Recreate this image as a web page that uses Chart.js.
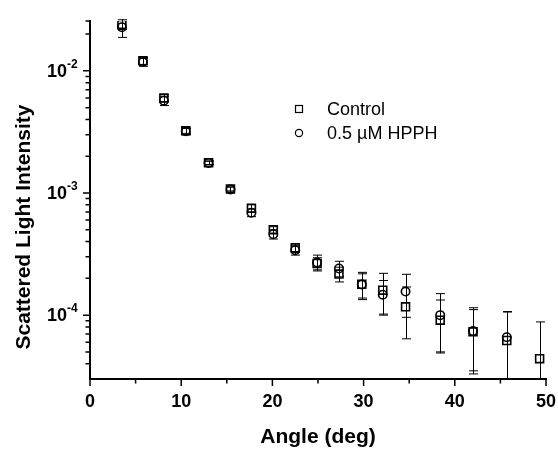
<!DOCTYPE html>
<html>
<head>
<meta charset="utf-8">
<script src="https://cdn.jsdelivr.net/npm/chart.js@4.4.1/dist/chart.umd.min.js"></script>
<style>
  html, body { margin: 0; padding: 0; background: #fff; }
</style>
</head>
<body>
<canvas id="scatterChart" width="558" height="451"></canvas>
<script>
// Datos
const angles = [3.5, 5.8, 8.1, 10.5, 13.0, 15.4, 17.7, 20.1, 22.5, 24.9, 27.3, 29.8, 32.1, 34.6, 38.4, 42.0, 45.7, 49.3];
const controlValues = [0.0240, 0.0121, 0.0060, 0.00323, 0.00177, 0.00108, 0.00075, 0.00050, 0.000355, 0.000265, 0.000217, 0.000179, 0.000160, 0.000117, 0.000091, 0.000073, 0.000062, 0.000044];
const controlErrors = [0.0022, 0.0008, 0.0004, 0.00015, 0.00006, 0.00004, 0.00005, 0.00003, 0.00003, 0.00003, 0.00003, 0.000045, 0.00006, 0.000053, 0.000042, 0.000038, 0.000045, 0.000044];
const hpphValues = [0.0228, 0.0118, 0.0057, 0.00320, 0.00176, 0.00107, 0.00069, 0.00046, 0.00034, 0.00027, 0.000241, 0.000178, 0.000147, 0.000156, 0.000100, 0.000074, 0.000066, null];
const hpphErrors = [0.004, 0.0009, 0.0005, 0.0002, 0.00006, 0.00005, 0.00005, 0.00004, 0.00003, 0.00004, 0.000035, 0.00004, 0.000045, 0.00006, 0.00005, 0.000041, 0.00004, null];

const xMajorTicks = [0, 10, 20, 30, 40, 50];
const xMinorTicks = [5, 15, 25, 35, 45];
const yDecadeTicks = [1e-4, 1e-3, 1e-2];
const yDecadeExps = ['-4', '-3', '-2'];

const yMin = 3e-5;
const yMax = 0.0256;

// ticks menores del eje log
const yMinorTicks = [];
[1e-5, 1e-4, 1e-3, 1e-2].forEach(d => {
    for (let m = 2; m <= 9; m++) {
        const v = m * d;
        if (v > yMin * 1.001 && v < yMax) yMinorTicks.push(v);
    }
});
yMinorTicks.push(yMax);

const errorSets = [
    { values: controlValues, errors: controlErrors },
    { values: hpphValues, errors: hpphErrors }
];

const FONT = '"Liberation Sans", Arial, sans-serif';

const decorPlugin = {
    id: 'decor',
    beforeDatasetsDraw(chart) {
        const ctx = chart.ctx;
        const xs = chart.scales.x, ys = chart.scales.y;
        const area = chart.chartArea;
        ctx.save();
        ctx.beginPath();
        ctx.rect(area.left, area.top - 2, area.right - area.left + 4, area.bottom - area.top + 2);
        ctx.clip();
        ctx.strokeStyle = '#000';
        ctx.lineWidth = 1;
        errorSets.forEach(set => {
            set.values.forEach((v, i) => {
                if (v === null) return;
                const e = set.errors[i];
                const x = Math.round(xs.getPixelForValue(angles[i])) + 0.5;
                const yT = ys.getPixelForValue(v + e);
                const lowOk = v - e > yMin;
                const yB = lowOk ? ys.getPixelForValue(v - e) : area.bottom;
                ctx.beginPath();
                ctx.moveTo(x, yT);
                ctx.lineTo(x, yB);
                ctx.moveTo(x - 4.5, yT);
                ctx.lineTo(x + 4.5, yT);
                if (lowOk) {
                    ctx.moveTo(x - 4.5, yB);
                    ctx.lineTo(x + 4.5, yB);
                }
                ctx.stroke();
            });
        });
        ctx.restore();
    },
    afterDraw(chart) {
        const ctx = chart.ctx;
        const xs = chart.scales.x, ys = chart.scales.y;
        const area = chart.chartArea;
        ctx.save();
        ctx.strokeStyle = '#000';
        ctx.fillStyle = '#000';
        ctx.lineWidth = 1.5;

        // marcas del eje y
        ctx.beginPath();
        yDecadeTicks.forEach(v => {
            const y = ys.getPixelForValue(v);
            ctx.moveTo(area.left - 7, y);
            ctx.lineTo(area.left, y);
        });
        yMinorTicks.forEach(v => {
            const y = ys.getPixelForValue(v);
            ctx.moveTo(area.left - 4.5, y);
            ctx.lineTo(area.left, y);
        });
        // marcas del eje x
        xMajorTicks.forEach(v => {
            const x = xs.getPixelForValue(v);
            ctx.moveTo(x, area.bottom);
            ctx.lineTo(x, area.bottom + 7);
        });
        xMinorTicks.forEach(v => {
            const x = xs.getPixelForValue(v);
            ctx.moveTo(x, area.bottom);
            ctx.lineTo(x, area.bottom + 4.5);
        });
        ctx.stroke();

        // etiquetas
        ctx.textBaseline = 'middle';
        ctx.textAlign = 'center';
        ctx.font = 'bold 18px ' + FONT;
        xMajorTicks.forEach(v => {
            ctx.fillText(String(v), xs.getPixelForValue(v), area.bottom + 23);
        });
        yDecadeTicks.forEach((v, i) => {
            const y = ys.getPixelForValue(v);
            ctx.textAlign = 'right';
            ctx.font = 'bold 18px ' + FONT;
            ctx.fillText('10', area.left - 23, y + 1);
            ctx.textAlign = 'left';
            ctx.font = 'bold 12px ' + FONT;
            ctx.fillText(yDecadeExps[i], area.left - 23, y - 6);
        });

        // titulos de ejes
        ctx.textAlign = 'center';
        ctx.font = 'bold 21px ' + FONT;
        ctx.fillText('Angle (deg)', (area.left + area.right) / 2, 437);
        ctx.save();
        ctx.translate(24, 227);
        ctx.rotate(-Math.PI / 2);
        ctx.fillText('Scattered Light Intensity', 0, 0);
        ctx.restore();

        // leyenda
        ctx.lineWidth = 1.2;
        ctx.strokeRect(295.5, 105.5, 7, 7);
        ctx.beginPath();
        ctx.arc(299, 133, 3.6, 0, Math.PI * 2);
        ctx.stroke();
        ctx.textAlign = 'left';
        ctx.font = '18px ' + FONT;
        ctx.fillText('Control', 327, 110);
        ctx.fillText('0.5 \u00B5M HPPH', 327, 134);
        ctx.restore();
    }
};

const ctx = document.getElementById('scatterChart').getContext('2d');
new Chart(ctx, {
    type: 'scatter',
    data: {
        datasets: [{
            label: 'Control',
            data: angles.map((a, i) => ({ x: a, y: controlValues[i] })),
            pointStyle: 'rect',
            pointRadius: 5.6,
            pointBorderWidth: 1.6,
            borderColor: '#000',
            backgroundColor: 'rgba(0,0,0,0)'
        }, {
            label: '0.5 \u00B5M HPPH',
            data: angles.map((a, i) => ({ x: a, y: hpphValues[i] })),
            pointStyle: 'circle',
            pointRadius: 4.2,
            pointBorderWidth: 1.6,
            borderColor: '#000',
            backgroundColor: 'rgba(0,0,0,0)'
        }]
    },
    options: {
        responsive: false,
        animation: false,
        devicePixelRatio: 1,
        layout: {
            padding: { top: 21, right: 12, left: 0, bottom: 0 }
        },
        plugins: {
            legend: { display: false },
            tooltip: { enabled: false }
        },
        scales: {
            x: {
                type: 'linear',
                min: 0,
                max: 50,
                grid: { display: false },
                ticks: { display: false },
                border: { color: '#000', width: 2 },
                afterFit: s => { s.height = 72; }
            },
            y: {
                type: 'logarithmic',
                min: yMin,
                max: yMax,
                grid: { display: false },
                ticks: { display: false },
                border: { color: '#000', width: 2 },
                afterFit: s => { s.width = 90; }
            }
        }
    },
    plugins: [decorPlugin]
});
</script>
</body>
</html>
